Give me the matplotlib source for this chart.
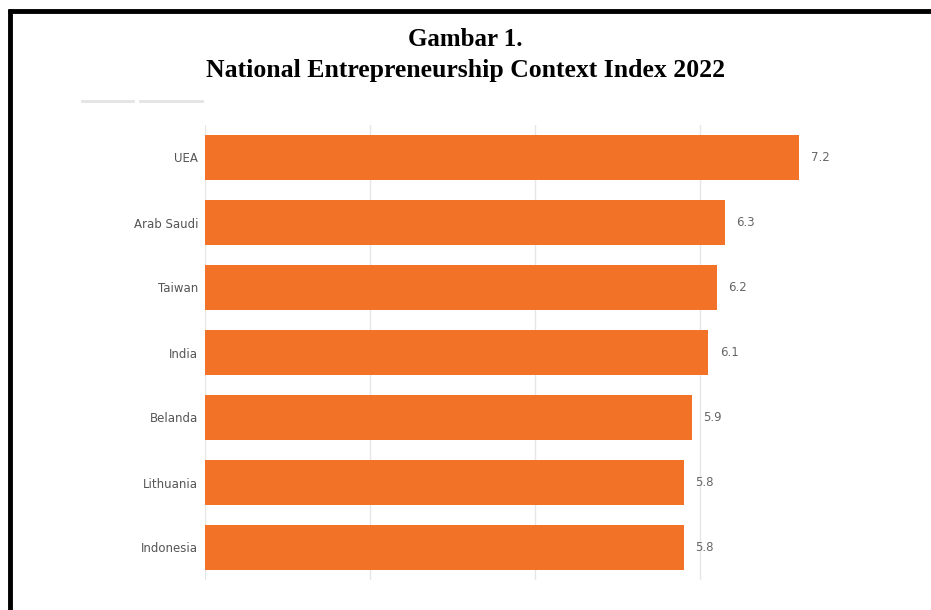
import matplotlib.pyplot as plt
from matplotlib.lines import Line2D
import numpy as np

# data
countries = ["UEA", "Arab Saudi", "Taiwan", "India", "Belanda", "Lithuania", "Indonesia"]
scores = [7.2, 6.3, 6.2, 6.1, 5.9, 5.8, 5.8]
value_labels = ["7.2", "6.3", "6.2", "6.1", "5.9", "5.8", "5.8"]
grid_ticks = [0, 2, 4, 6]

W, H = 931, 610
fig = plt.figure(figsize=(W / 100, H / 100), dpi=100)
fig.patch.set_facecolor("white")

# plot area in pixel terms
left, right = 205, 865
top, bottom = 125, 580
ax = fig.add_axes([left / W, 1 - bottom / H, (right - left) / W, (bottom - top) / H])

y = np.arange(len(countries))
ax.barh(y, scores, height=0.7, color="#F27227", zorder=3)
for yi, v, lab in zip(y, scores, value_labels):
    ax.text(v + 0.14, yi, lab, va="center", ha="left", fontsize=8.5,
            color="#666666", family="DejaVu Sans")

ax.set_xlim(0, 8)
ax.set_ylim(len(countries) - 0.5, -0.5)
ax.set_xticks(grid_ticks)
ax.set_xticklabels([])
ax.tick_params(axis="x", length=0)
ax.set_yticks(y)
ax.set_yticklabels(countries, fontsize=8.5, color="#555555")
ax.tick_params(axis="y", length=0, pad=5)
ax.grid(axis="x", color="#e6e6e6", linewidth=1, zorder=0)
for s in ax.spines.values():
    s.set_visible(False)

# title
fig.text(0.5, 1 - 40 / H, "Gambar 1.", ha="center", va="center",
         fontsize=18, fontweight="bold", family="Liberation Serif")
fig.text(0.5, 1 - 71 / H, "National Entrepreneurship Context Index 2022", ha="center",
         va="center", fontsize=18.5, fontweight="bold", family="Liberation Serif")

# faint tab lines left over from the screenshot
for x0, x1 in [(82, 133), (140, 202)]:
    fig.add_artist(Line2D([x0 / W, x1 / W], [1 - 101 / H] * 2, color="#e4e4e4",
                          linewidth=2, transform=fig.transFigure))

# black frame on left and top
fig.add_artist(Line2D([10 / W, 10 / W], [0, 1 - 9 / H], color="black", linewidth=3.5,
                      transform=fig.transFigure, solid_capstyle="butt"))
fig.add_artist(Line2D([8 / W, 1], [1 - 11 / H] * 2, color="black", linewidth=3.5,
                      transform=fig.transFigure, solid_capstyle="butt"))

fig.savefig("out.png", dpi=100)
